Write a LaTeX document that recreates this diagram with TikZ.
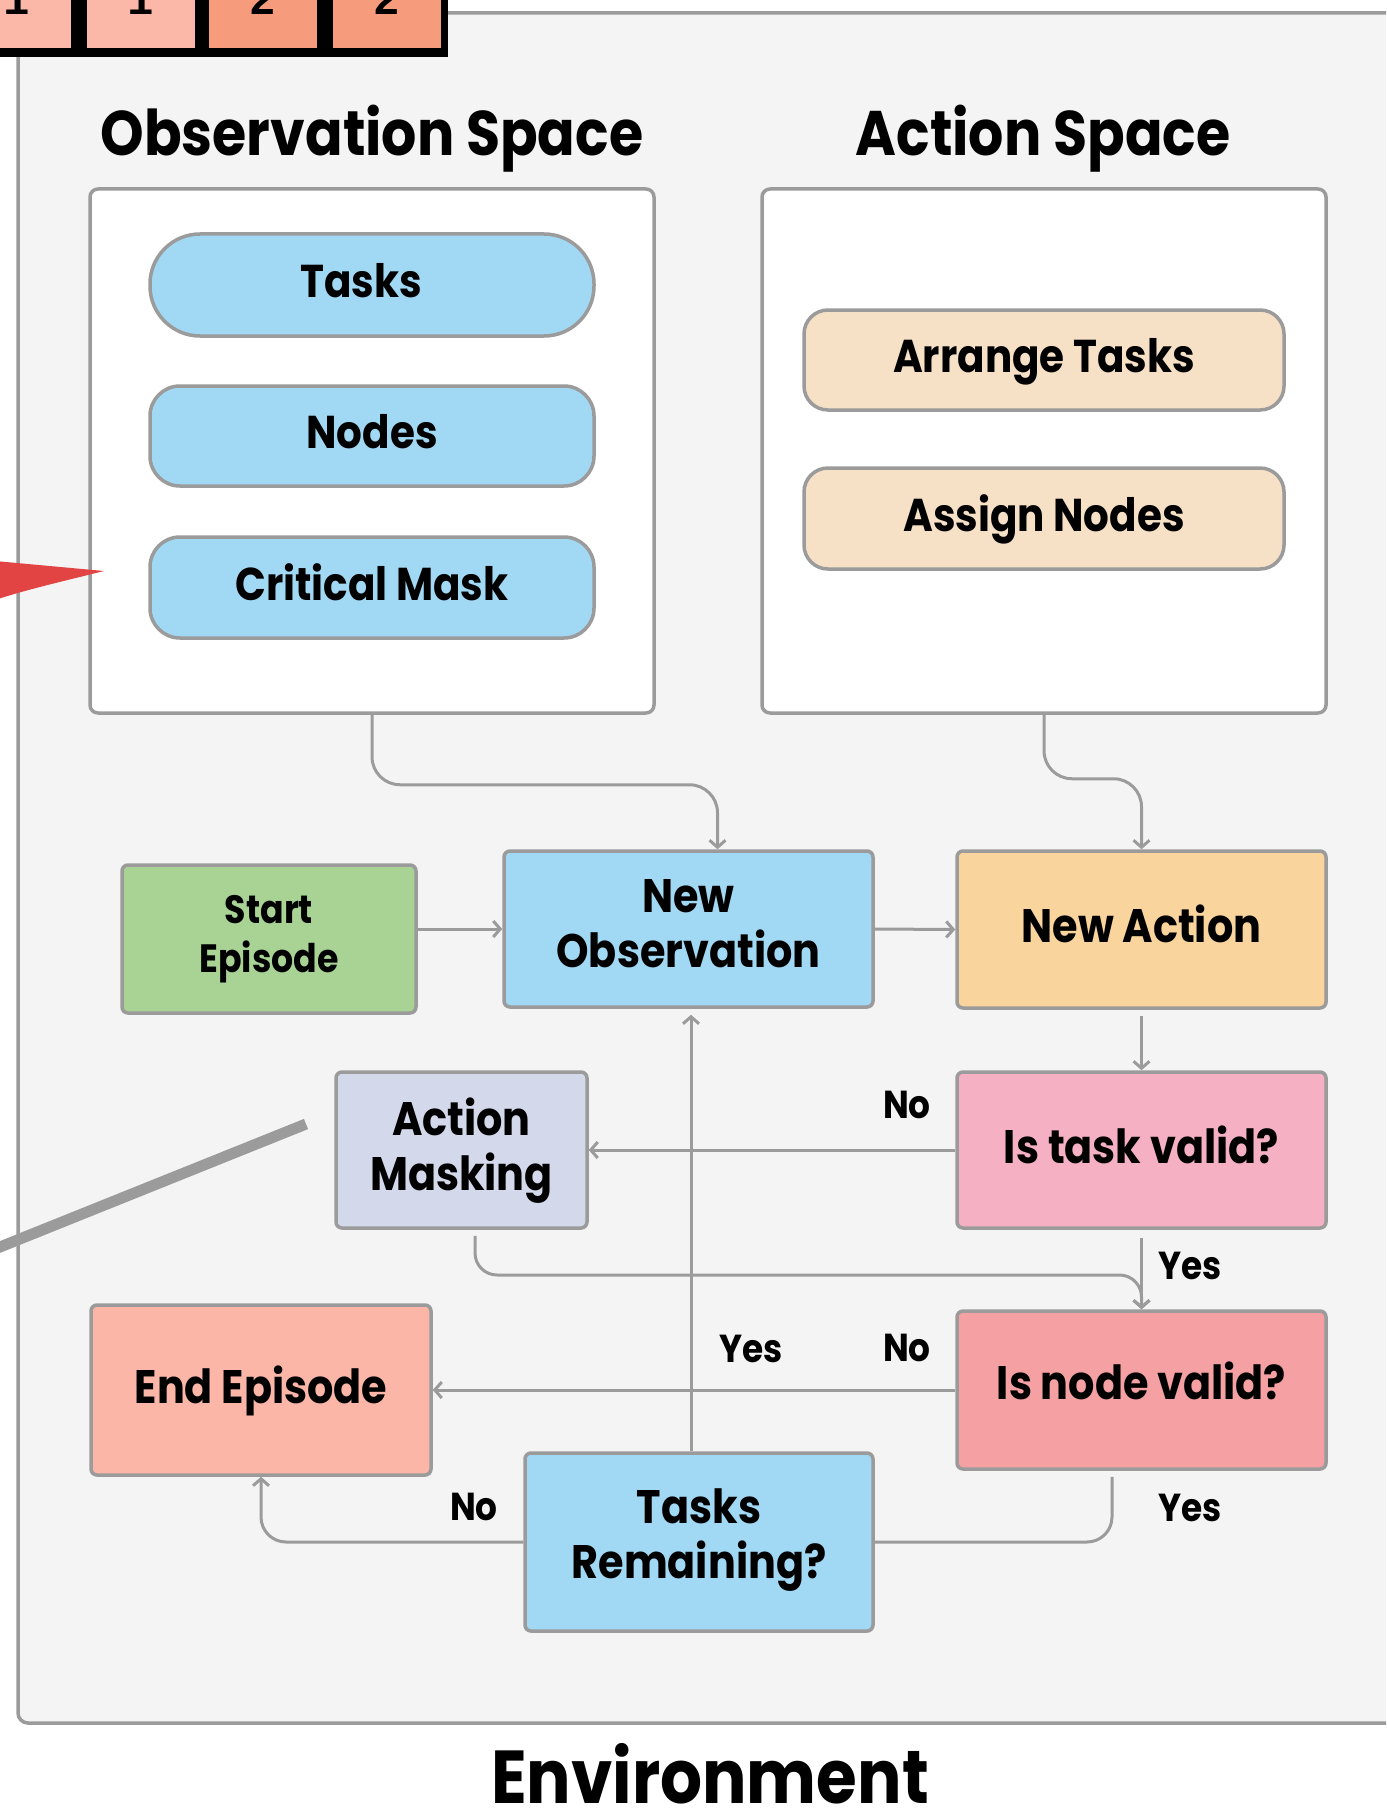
\documentclass[tikz,border=0pt]{standalone}
\usepackage{fontspec}
\setmainfont{Poppins}[FakeStretch=0.88]
\newfontfamily\monof{Liberation Mono}
\usetikzlibrary{arrows.meta}
\definecolor{linegray}{HTML}{9B9B9B}
\definecolor{envfill}{HTML}{F3F4F3}
\definecolor{cblue}{HTML}{A1D8F3}
\definecolor{cpeach}{HTML}{F6E1C6}
\definecolor{cgreen}{HTML}{A8D394}
\definecolor{corange}{HTML}{F9D49D}
\definecolor{cpink}{HTML}{F5B0C3}
\definecolor{clav}{HTML}{D3D8EB}
\definecolor{csalmon}{HTML}{F5A0A2}
\definecolor{cend}{HTML}{FBB6A7}
\definecolor{cred}{HTML}{E24444}
\definecolor{cellA}{HTML}{FBB8A9}
\definecolor{cellB}{HTML}{F79B7D}
\newcommand\fz[2]{\fontsize{#1}{#2}\selectfont}
\begin{document}
\begin{tikzpicture}[x=1pt,y=-1pt,
  frame/.style={draw=linegray,line width=3.5pt,fill=white,rounded corners=8pt,inner sep=0pt},
  pill/.style={draw=linegray,line width=3.5pt,inner sep=0pt,align=center,text depth=10pt,font=\bfseries\fz{46}{52}},
  fbox/.style={draw=linegray,line width=3.5pt,rounded corners=6pt,inner sep=0pt,align=center,text depth=11pt,font=\bfseries\fz{47}{55}},
  lab/.style={inner sep=0pt,font=\bfseries\fz{39}{42}},
  ttl/.style={inner sep=0pt,anchor=base,font=\bfseries\fz{63}{70}},
  line/.style={draw=linegray,line width=3pt},
  conn/.style={line,-{Straight Barb[length=7pt,width=16pt]}},
  digit/.style={inner sep=0pt,anchor=base,font=\monof\bfseries\fz{44}{44}}
]
\useasboundingbox (0,0) rectangle (1386,1811);
\clip (0,0) rectangle (1386,1811);
\fill[white] (0,0) rectangle (1386,1811);

% environment
\draw[draw=linegray,fill=envfill,line width=3.5pt,rounded corners=10pt] (18,13) rectangle (1402,1723);

% top-left cells
\fill[black] (-60,-60) rectangle (448,57);
\fill[cellA] (-40,-60) rectangle (71,48);
\fill[cellA] (87,-60) rectangle (195,48);
\fill[cellB] (209,-60) rectangle (317,48);
\fill[cellB] (333,-60) rectangle (441,48);
\node[digit] (d1) at (17,15) {1};
\node[digit] (d2) at (141,15) {1};
\node[digit] (d3) at (263,15) {2};
\node[digit] (d4) at (387,15) {2};

% titles
\node[ttl] (tobs) at (372,156) {Observation Space};
\node[ttl] (tact) at (1043,156) {Action Space};
\node[ttl,font=\bfseries\fz{75}{80}] (tenv) at (710,1803) {Environment};

% space frames
\node[frame,minimum width=564pt,minimum height=524pt] (obsbox) at (372,451) {};
\node[frame,minimum width=564pt,minimum height=524pt] (actbox) at (1044,451) {};

% red pointer and gray bar
\fill[cred] (-5,561) -- (104,571) .. controls (60,582) and (25,590) .. (-5,600) -- cycle;
\draw[linegray,line width=11pt] (-5,1249) -- (306,1124);

% pills
\node[pill,fill=cblue,rounded corners=50pt,minimum width=444pt,minimum height=102pt] (tasks) at (372,285) {Tasks\hspace*{22pt}};
\node[pill,fill=cblue,rounded corners=30pt,minimum width=444pt,minimum height=100pt] (nodes) at (372,436) {Nodes};
\node[pill,fill=cblue,rounded corners=30pt,minimum width=444pt,minimum height=101pt] (crit) at (372,587.5) {Critical Mask};
\node[pill,fill=cpeach,rounded corners=24pt,minimum width=480pt,minimum height=100pt] (arrange) at (1044,360) {Arrange Tasks};
\node[pill,fill=cpeach,rounded corners=24pt,minimum width=480pt,minimum height=101pt] (assign) at (1044,518.5) {Assign Nodes};

% flow boxes
\node[fbox,fill=cgreen,minimum width=294pt,minimum height=148pt,font=\bfseries\fz{39.5}{49}] (start) at (269,939) {Start\\Episode};
\node[fbox,fill=cblue,minimum width=369pt,minimum height=156pt] (newobs) at (688.5,929) {New\\Observation};
\node[fbox,fill=corange,minimum width=369pt,minimum height=157pt] (newact) at (1141.5,929.5) {New Action};
\node[fbox,fill=cpink,minimum width=369pt,minimum height=156pt] (taskvalid) at (1141.5,1150) {Is task valid?};
\node[fbox,fill=clav,minimum width=251pt,minimum height=156pt] (mask) at (461.5,1150) {Action\\Masking};
\node[fbox,fill=csalmon,minimum width=369pt,minimum height=158pt,text depth=18pt] (nodevalid) at (1141.5,1390) {Is node valid?};
\node[fbox,fill=cend,minimum width=340pt,minimum height=170pt] (endep) at (261,1390) {End Episode};
\node[fbox,fill=cblue,minimum width=348pt,minimum height=178pt,text depth=16pt] (remain) at (699,1542) {Tasks\\Remaining?};

% connectors
\draw[conn,rounded corners=28pt] (obsbox.south) -- ++(0,70) -| ([xshift=29pt]newobs.north);
\draw[conn,rounded corners=28pt] (actbox.south) -- ++(0,64) -| (newact.north);
\draw[conn] (start.east |- newobs.west) -- (newobs.west);
\draw[conn] (newobs.east) -- (newact.west);
\draw[conn,shorten <=6pt] (newact.south) -- (taskvalid.north);
\draw[conn] (taskvalid.west) -- (mask.east);
\draw[conn,shorten <=8pt] (taskvalid.south) -- (nodevalid.north);
\draw[conn,rounded corners=22pt,shorten <=6pt] ([xshift=13.5pt]mask.south) -- ([xshift=13.5pt]mask.south |- 0,1275) -- (nodevalid.north |- 0,1275) -- (nodevalid.north);
\draw[conn] (nodevalid.west) -- (endep.east);
\draw[conn,shorten >=6pt] ([xshift=-8pt]remain.north) -- ([xshift=-8pt]remain.north |- newobs.south);
\draw[line,rounded corners=25pt,shorten <=6pt] ([xshift=-29.5pt]nodevalid.south) |- (remain.east);
\draw[conn,rounded corners=25pt] (remain.west) -| (endep.south);

% labels
\node[lab] (l1) at (907,1105) {No};
\node[lab] (l2) at (1190,1266) {Yes};
\node[lab] (l3) at (751,1349) {Yes};
\node[lab] (l4) at (907,1348) {No};
\node[lab] (l5) at (1190,1508) {Yes};
\node[lab] (l6) at (474,1507) {No};
\end{tikzpicture}
\end{document}
